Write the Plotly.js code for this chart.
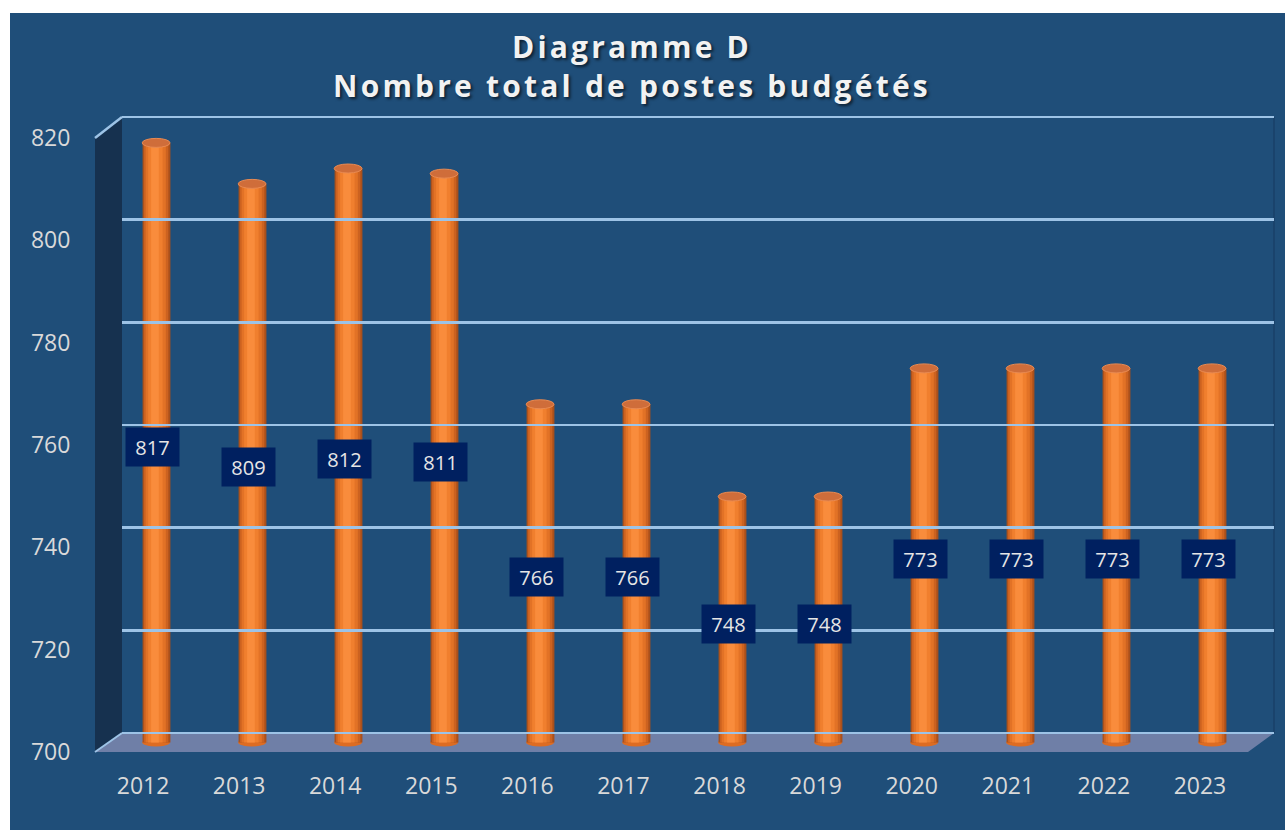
<!DOCTYPE html>
<html>
<head>
<meta charset="utf-8">
<script src="https://cdn.plot.ly/plotly-3.0.1.min.js"></script>
<style>
  body { margin: 0; background: #ffffff; }
  #chart { position: absolute; left: 10px; top: 13px; width: 1275px; height: 817px; }
  .gtitle { letter-spacing: 3.2px; }
</style>
</head>
<body>
<div id="chart"></div>
<script>
// data
var years = [2012, 2013, 2014, 2015, 2016, 2017, 2018, 2019, 2020, 2021, 2022, 2023];
var postes = [817, 809, 812, 811, 766, 766, 748, 748, 773, 773, 773, 773];
var yTicks = [700, 720, 740, 760, 780, 800, 820];

// page pixel -> paper fraction (div is offset 10,13 and 1275x817)
var W = 1275, H = 817;
function px(X) { return (X - 10) / W; }
function py(Y) { return 1 - (Y - 13) / H; }

var blue = '#1f4e79';
var grid = '#9dc3e6';

// cylinder shading : several overlaid bars, dark at the edges, light near the middle
var layers = [
  {w: 0.29,  d: 0,     c: '#a9501c'},
  {w: 0.255, d: 0.004, c: '#cc6220'},
  {w: 0.21,  d: 0.008, c: '#e27226'},
  {w: 0.15,  d: 0.012, c: '#f07f2e'},
  {w: 0.08,  d: 0.016, c: '#f98c3c'}
];

var data = layers.map(function (l) {
  return {
    type: 'bar',
    x: years,
    y: postes.map(function (v) { return v - 700; }),
    base: 700,
    width: l.w,
    offset: -l.w / 2 - l.d,
    marker: {color: l.c, line: {width: 0}},
    hoverinfo: 'skip',
    showlegend: false
  };
});

// empty traces so the back wall and the front axes get their own subplots
data.push({type: 'scatter', x: [], y: [], xaxis: 'x2', yaxis: 'y2', showlegend: false, hoverinfo: 'skip'});
data.push({type: 'scatter', x: [], y: [], xaxis: 'x3', yaxis: 'y3', showlegend: false, hoverinfo: 'skip'});

var shapes = [];

// side wall
shapes.push({type: 'path', xref: 'paper', yref: 'paper', layer: 'below',
  path: 'M' + px(95) + ',' + py(138) + ' L' + px(122) + ',' + py(117) + ' L' + px(122) + ',' + py(733) + ' L' + px(95) + ',' + py(752) + ' Z',
  fillcolor: '#16314f', line: {width: 0}});
// floor
shapes.push({type: 'path', xref: 'paper', yref: 'paper', layer: 'below',
  path: 'M' + px(95) + ',' + py(752) + ' L' + px(122) + ',' + py(733) + ' L' + px(1274) + ',' + py(733) + ' L' + px(1248) + ',' + py(752) + ' Z',
  fillcolor: '#6f7fa7', line: {width: 0}});
// top edge of the side wall and left edge of the floor
shapes.push({type: 'line', xref: 'paper', yref: 'paper', layer: 'below',
  x0: px(95), y0: py(138), x1: px(122), y1: py(117), line: {color: grid, width: 2.5}});
shapes.push({type: 'line', xref: 'paper', yref: 'paper', layer: 'below',
  x0: px(95), y0: py(752), x1: px(122), y1: py(733), line: {color: grid, width: 2}});
// right edge of the back wall
shapes.push({type: 'line', xref: 'paper', yref: 'paper', layer: 'below',
  x0: px(1274), y0: py(117), x1: px(1274), y1: py(733), line: {color: '#1a4168', width: 1.5}});

// rounded bottoms and top caps of the cylinders
years.forEach(function (yr, i) {
  shapes.push({type: 'circle', xref: 'x', yref: 'y', layer: 'between',
    xsizemode: 'pixel', ysizemode: 'pixel', xanchor: yr, yanchor: 700,
    x0: -14.3, x1: 13.5, y0: -4, y1: 4,
    fillcolor: '#dd6c22', line: {width: 0}});
  shapes.push({type: 'circle', xref: 'x', yref: 'y', layer: 'above',
    xsizemode: 'pixel', ysizemode: 'pixel', xanchor: yr, yanchor: postes[i],
    x0: -14.3, x1: 13.5, y0: -4.5, y1: 4.5,
    fillcolor: '#cf6d3a', line: {color: '#e88a52', width: 1}});
});

// value boxes in the middle of each cylinder
var annotations = years.map(function (yr, i) {
  return {
    xref: 'x', yref: 'y', x: yr, y: (700 + postes[i]) / 2,
    text: String(postes[i]), showarrow: false,
    xshift: -4, yshift: -4,
    width: 53, height: 38, borderpad: 0,
    bgcolor: '#002060',
    font: {family: 'Open Sans, sans-serif', size: 20, color: '#e6e6e6'}
  };
});

// back wall: 700 at y=733, 820 at y=117 ; pad 2px each side so the edge gridlines show
var backPad = 2 * 120 / 616;

var layout = {
  width: 1275,
  height: 817,
  margin: {l: 0, r: 0, t: 0, b: 0},
  paper_bgcolor: blue,
  plot_bgcolor: 'rgba(0,0,0,0)',
  barmode: 'overlay',
  title: {
    text: 'Diagramme D<br>Nombre total de postes budgétés',
    x: px(632), xref: 'paper', xanchor: 'center',
    y: py(58), yref: 'paper', yanchor: 'top',
    font: {family: 'Open Sans, sans-serif', size: 30, weight: 'bold', color: '#f2f2f2',
           shadow: '2px 2px 3px rgba(0,0,0,0.6)'}
  },
  // middle plane, where the cylinders stand
  xaxis: {domain: [px(108.5), px(1260.5)], range: [2011.5, 2023.5],
    showgrid: false, zeroline: false, showticklabels: false, showline: false, fixedrange: true},
  yaxis: {domain: [py(752.75), py(127.5)], range: [698, 820],
    showgrid: false, zeroline: false, showticklabels: false, showline: false, fixedrange: true},
  // back wall with the gridlines
  xaxis2: {domain: [px(122), px(1274)], range: [0, 1], anchor: 'y2',
    showgrid: false, zeroline: false, showticklabels: false, showline: false, fixedrange: true},
  yaxis2: {domain: [py(735), py(115)], range: [700 - backPad, 820 + backPad], anchor: 'x2',
    tickvals: yTicks, showticklabels: false, showgrid: true, gridcolor: grid, gridwidth: 2.5,
    zeroline: false, showline: false, fixedrange: true},
  // front plane with the tick labels
  xaxis3: {domain: [px(95), px(1248)], range: [2011.5, 2023.5], anchor: 'y3',
    tickvals: years, ticktext: years.map(String),
    ticks: 'outside', ticklen: 13, tickcolor: 'rgba(0,0,0,0)',
    tickfont: {family: 'Open Sans, sans-serif', size: 23, color: '#d9d9d9'},
    showgrid: false, zeroline: false, showline: false, fixedrange: true},
  yaxis3: {domain: [py(752), py(138)], range: [700, 820], anchor: 'x3',
    tickvals: yTicks, ticktext: yTicks.map(String),
    ticks: 'outside', ticklen: 19, tickcolor: 'rgba(0,0,0,0)',
    tickfont: {family: 'Open Sans, sans-serif', size: 23, color: '#d9d9d9'},
    showgrid: false, zeroline: false, showline: false, fixedrange: true},
  shapes: shapes,
  annotations: annotations
};

Plotly.newPlot('chart', data, layout, {displayModeBar: false, staticPlot: true});
</script>
</body>
</html>
